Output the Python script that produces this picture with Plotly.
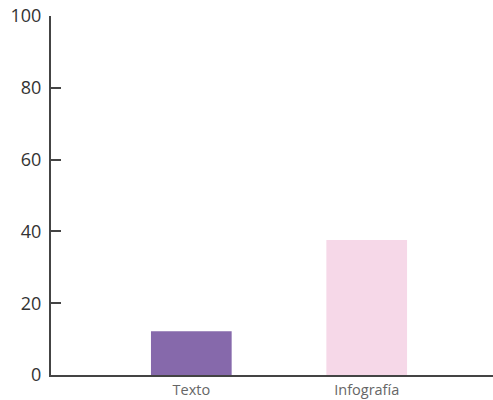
import plotly.graph_objects as go

categories = ["Texto", "Infografía"]
values = [12.2, 37.6]
colors = ["#8669ab", "#f6d8e8"]
y_ticks = [0, 20, 40, 60, 80, 100]

fig = go.Figure(go.Bar(
    x=categories, y=values,
    marker=dict(color=colors, line=dict(width=0)),
    width=0.46,
))

fig.update_layout(
    width=493, height=400,
    margin=dict(l=51, r=0, t=16, b=25, autoexpand=False),
    paper_bgcolor="white", plot_bgcolor="white",
    showlegend=False,
    font=dict(family="Open Sans"),
)
fig.update_xaxes(
    type="category", range=[-0.8, 1.72], automargin=False,
    showline=True, linecolor="#444", linewidth=2,
    showgrid=False, ticks="", ticklabelstandoff=1,
    tickfont=dict(size=14.5, color="#666"),
)
fig.update_yaxes(
    range=[0, 100], tickvals=y_ticks, automargin=False,
    showline=True, linecolor="#444", linewidth=2,
    showgrid=False, zeroline=False,
    ticks="inside", ticklen=10, tickwidth=2, tickcolor="#444",
    ticklabelstandoff=4,
    tickfont=dict(size=18, color="#333"),
)

fig.write_html(
    "out.html",
    config={"displayModeBar": False},
    post_script="document.body.style.margin='0';document.body.style.overflow='hidden';",
)
